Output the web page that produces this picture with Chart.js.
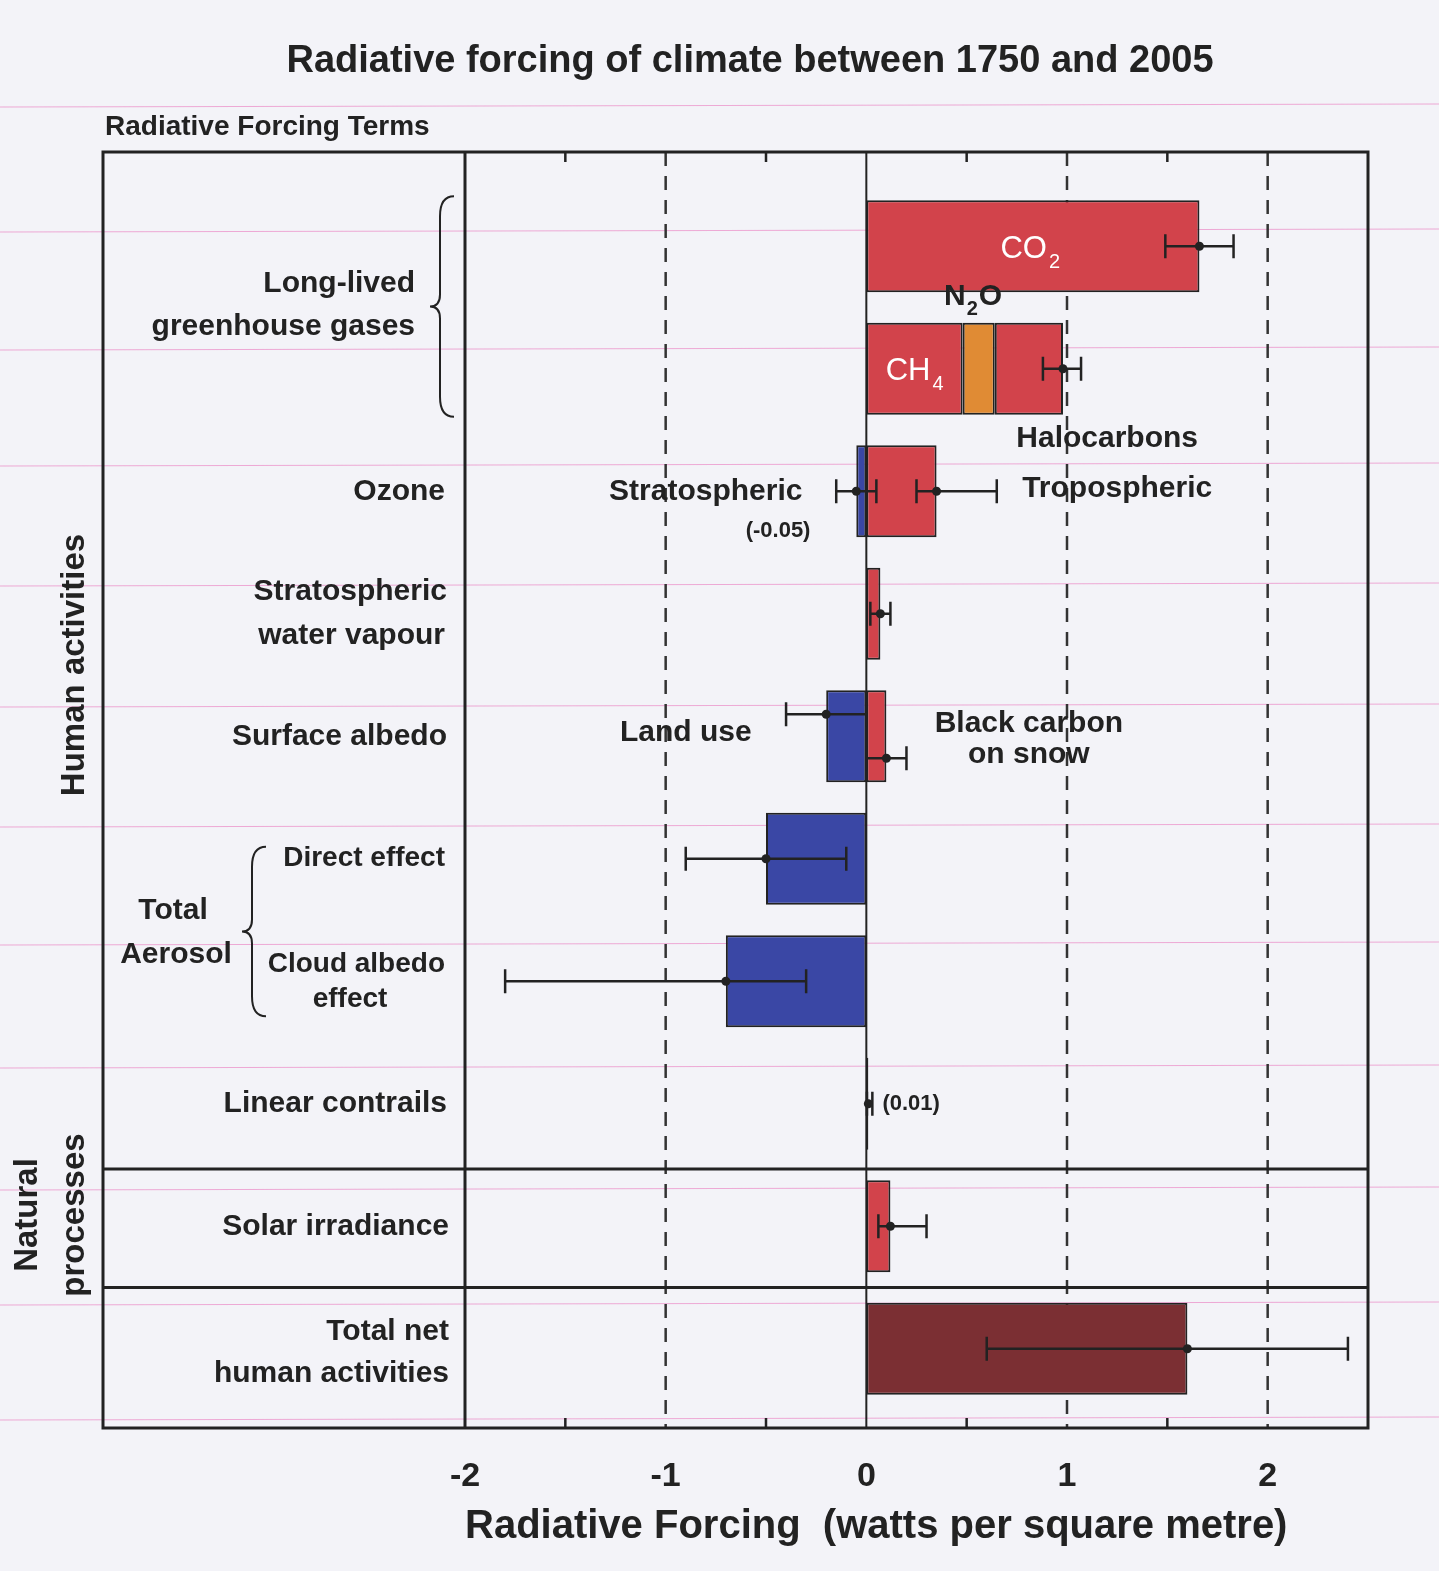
<!DOCTYPE html>
<html><head><meta charset="utf-8">
<script src="https://cdn.jsdelivr.net/npm/chart.js@4/dist/chart.umd.min.js"></script>
<style>html,body{margin:0;padding:0;background:#f3f3f8}canvas{display:block}</style>
</head><body>
<div style="width:1439px;height:1571px"><canvas id="c" width="1439" height="1571"></canvas></div>
<script>
const categories = ["Long-lived greenhouse gases CO2","CH4 N2O Halocarbons","Ozone","Stratospheric water vapour","Surface albedo","Direct effect","Cloud albedo effect","Linear contrails","Solar irradiance","Total net human activities"];
const redValues   = [1.66, 0.48, 0.35, 0.07, 0.10, null, null, 0.01, 0.12, null];
const n2oValue    = 0.16;
const haloValue   = 0.34;
const blueValues  = [null, null, -0.05, null, -0.20, -0.50, -0.70, null, null, null];
const totalValue  = 1.6;
// error bars: [row, central, low, high, vertical slot (-1 upper, 0 centre, 1 lower)]
const errorBars = [
  [0, 1.66, 1.49, 1.83, 0],
  [1, 0.98, 0.88, 1.07, 0],
  [2, -0.05, -0.15, 0.05, 0],
  [2, 0.35, 0.25, 0.65, 0],
  [3, 0.07, 0.02, 0.12, 0],
  [4, -0.20, -0.40, 0.00, -1],
  [4, 0.10, 0.00, 0.20, 1],
  [5, -0.50, -0.90, -0.10, 0],
  [6, -0.70, -1.80, -0.30, 0],
  [7, 0.01, 0.003, 0.03, 0],
  [8, 0.12, 0.06, 0.30, 0],
  [9, 1.60, 0.60, 2.40, 0]
];
const xTicks = [-2, -1, 0, 1, 2];
const dashedAt = [-1, 1, 2];
const minorTicks = [-1.5, -0.5, 0.5, 1.5];

const RED='#d2434b', BLUE='#3a47a5', ORANGE='#e08b34', BROWN='#7b2f33';
const FONT='"Liberation Sans", Arial, sans-serif';
const rows = categories.map((_, i) => i);
const pos = redValues.map(v => v == null ? null : [0, v]);
const neg = blueValues.map(v => v == null ? null : [v, 0]);
const n2o = rows.map(i => i === 1 ? [redValues[1], redValues[1] + n2oValue] : null);
const halo = rows.map(i => i === 1 ? [redValues[1] + n2oValue, redValues[1] + n2oValue + haloValue] : null);
const tot = rows.map(i => i === 9 ? [0, totalValue] : null);

function ds(data, color){return {data, backgroundColor:color, borderColor:'#222', borderWidth:2, borderSkipped:false, grouped:false, barPercentage:0.75, categoryPercentage:1};}

const BOX_TOP=152, BOX_BOTTOM=1428, BOX_LEFT=103;
const deco = {
  id:'deco',
  beforeDraw(ch){const c=ch.ctx;c.save();c.fillStyle='#f3f3f8';c.fillRect(0,0,ch.width,ch.height);
    c.strokeStyle='rgba(230,80,170,0.45)';c.lineWidth=1.2;
    [107,232,350,466,586,707,827,945,1068,1190,1305,1420].forEach(y=>{c.beginPath();c.moveTo(0,y);c.lineTo(1439,y-3);c.stroke();});
    const xs=ch.scales.x;
    c.strokeStyle='#333';c.lineWidth=2.5;c.setLineDash([14,10]);
    dashedAt.forEach(v=>{const x=xs.getPixelForValue(v);c.beginPath();c.moveTo(x,BOX_TOP);c.lineTo(x,BOX_BOTTOM);c.stroke();});
    c.setLineDash([]);c.lineWidth=2;c.strokeStyle='#222';
    const x0=xs.getPixelForValue(0);c.beginPath();c.moveTo(x0,BOX_TOP);c.lineTo(x0,BOX_BOTTOM);c.stroke();
    c.lineWidth=2.5;
    minorTicks.forEach(v=>{const x=xs.getPixelForValue(v);c.beginPath();c.moveTo(x,BOX_TOP);c.lineTo(x,BOX_TOP+10);c.moveTo(x,BOX_BOTTOM);c.lineTo(x,BOX_BOTTOM-10);c.stroke();});
    c.restore();},
  afterDraw(ch){
    const c=ch.ctx, xs=ch.scales.x, ys=ch.scales.y, a=ch.chartArea;
    const X=v=>xs.getPixelForValue(v), Y=i=>ys.getPixelForValue(i);
    c.save();
    c.strokeStyle='#222';c.fillStyle='#222';c.lineWidth=2.5;
    errorBars.forEach(([r,v,lo,hi,s])=>{const y=Y(r)+s*22;
      c.beginPath();c.moveTo(X(lo),y);c.lineTo(X(hi),y);
      c.moveTo(X(lo),y-12);c.lineTo(X(lo),y+12);c.moveTo(X(hi),y-12);c.lineTo(X(hi),y+12);c.stroke();
      c.beginPath();c.arc(X(v),y,4.5,0,Math.PI*2);c.fill();});
    c.lineWidth=3;c.strokeStyle='#222';
    c.strokeRect(BOX_LEFT,BOX_TOP,a.right-BOX_LEFT,BOX_BOTTOM-BOX_TOP);
    c.beginPath();c.moveTo(a.left,BOX_TOP);c.lineTo(a.left,BOX_BOTTOM);
    const b1=(Y(7)+Y(8))/2+4, b2=(Y(8)+Y(9))/2;
    c.moveTo(BOX_LEFT,b1);c.lineTo(a.right,b1);c.moveTo(BOX_LEFT,b2);c.lineTo(a.right,b2);c.stroke();
    c.lineWidth=2;
    function brace(x,y1,y2){const m=(y1+y2)/2;c.beginPath();c.moveTo(x+14,y1);c.quadraticCurveTo(x,y1,x,y1+20);c.lineTo(x,m-12);c.quadraticCurveTo(x,m,x-10,m);
      c.quadraticCurveTo(x,m,x,m+12);c.lineTo(x,y2-20);c.quadraticCurveTo(x,y2,x+14,y2);c.stroke();}
    brace(440,Y(0)-50,Y(1)+48);brace(252,Y(5)-12,Y(6)+35);
    c.fillStyle='#222';c.textBaseline='middle';
    const t=(s,x,y,size,al)=>{c.font='bold '+size+'px '+FONT;c.textAlign=al||'right';c.fillText(s,x,y);};
    t('Radiative forcing of climate between 1750 and 2005',750,62,38,'center');
    t('Radiative Forcing Terms',105,127,28,'left');
    const gm=(Y(0)+Y(1))/2;
    t('Long-lived',415,gm-24,30);t('greenhouse gases',415,gm+19,30);
    t('Ozone',445,Y(2),30);
    t('Stratospheric',447,Y(3)-22,30);t('water vapour',445,Y(3)+22,30);
    t('Surface albedo',447,Y(4),30);
    t('Direct effect',445,Y(5),28);
    const am=(Y(5)+Y(6))/2;
    t('Total',173,am-9,30,'center');t('Aerosol',176,am+35,30,'center');
    t('Cloud albedo',445,Y(6)-17,28);t('effect',350,Y(6)+18,28,'center');
    t('Linear contrails',447,Y(7),30);
    t('Solar irradiance',449,Y(8),30);
    t('Total net',449,Y(9)-17,30);t('human activities',449,Y(9)+25,30);
    c.save();c.translate(75,665);c.rotate(-Math.PI/2);t('Human activities',0,0,33,'center');c.restore();
    c.save();c.translate(28,1215);c.rotate(-Math.PI/2);t('Natural',0,0,33,'center');c.restore();
    c.save();c.translate(75,1215);c.rotate(-Math.PI/2);t('processes',0,0,33,'center');c.restore();
    c.fillStyle='#fff';
    c.font='31px '+FONT;c.textAlign='right';c.fillText('CO',X(0.82)+16,Y(0)+3);c.font='20px '+FONT;c.textAlign='left';c.fillText('2',X(0.82)+18,Y(0)+16);
    c.font='31px '+FONT;c.textAlign='right';c.fillText('CH',X(0.23)+18,Y(1)+3);c.font='20px '+FONT;c.textAlign='left';c.fillText('4',X(0.23)+20,Y(1)+16);
    c.fillStyle='#222';
    t('N',X(0.48)+3,Y(1)-72,30,'right');c.font='bold 20px '+FONT;c.textAlign='left';c.fillText('2',X(0.48)+4,Y(1)-59);t('O',X(0.48)+16,Y(1)-72,30,'left');
    t('Halocarbons',X(1.2),Y(1)+70,30,'center');
    t('Stratospheric',X(-0.8),Y(2),30,'center');
    t('(-0.05)',X(-0.44),Y(2)+40,22,'center');
    t('Tropospheric',X(1.25),Y(2)-3,30,'center');
    t('Land use',X(-0.9),Y(4)-4,30,'center');
    t('Black carbon',X(0.81),Y(4)-13,30,'center');t('on snow',X(0.81),Y(4)+18,30,'center');
    t('(0.01)',X(0.08),Y(7),22,'left');
    c.restore();
  }
};

new Chart(document.getElementById('c'),{
  type:'bar',
  data:{labels:categories,datasets:[ds(pos,RED),ds(n2o,ORANGE),ds(halo,RED),ds(neg,BLUE),ds(tot,BROWN)]},
  options:{
    indexAxis:'y',responsive:false,animation:false,devicePixelRatio:1,
    layout:{padding:{left:465,top:185,right:71,bottom:16}},
    plugins:{legend:{display:false},tooltip:{enabled:false},title:{display:false}},
    scales:{
      y:{display:false,offset:true,grid:{display:false}},
      x:{min:-2,max:2.5,
        afterBuildTicks(s){s.ticks=xTicks.map(v=>({value:v}));},
        afterFit(s){s.height=145;},
        ticks:{font:{family:FONT,size:34,weight:'bold'},color:'#222',padding:38},
        grid:{display:false},
        border:{display:false},
        title:{display:true,align:'start',text:'Radiative Forcing  (watts per square metre)',font:{family:FONT,size:40,weight:'bold'},color:'#222',padding:{top:4}}
      }
    }
  },
  plugins:[deco]
});
</script></body></html>
